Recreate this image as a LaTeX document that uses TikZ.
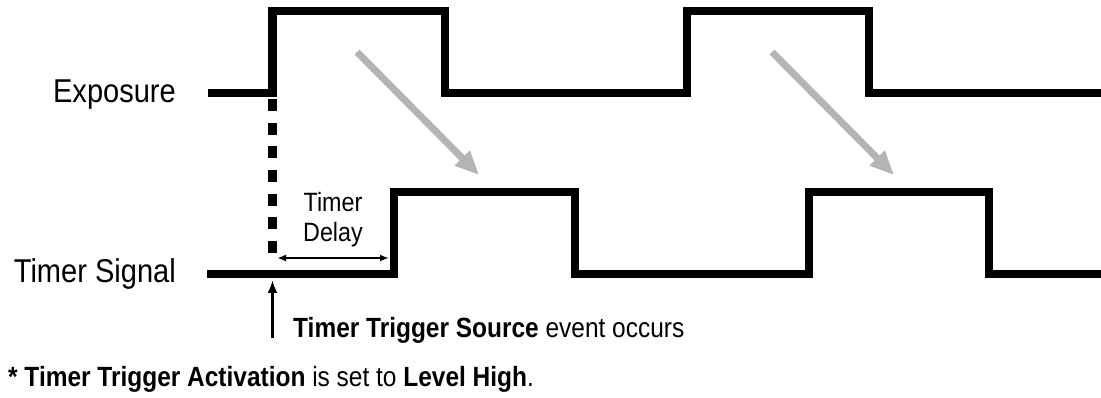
\documentclass[tikz,border=0pt]{standalone}
\usepackage{fontspec}
\setmainfont{Liberation Sans}[FakeStretch=0.88]
\usetikzlibrary{arrows.meta}
\definecolor{arrowgray}{HTML}{B4B4B4}
\tikzset{
  wave/.style={line width=8.5pt, line join=miter, black},
  hint/.style={line width=7pt, arrowgray, -{Triangle[length=24pt,width=20pt]}},
  lbl/.style={inner sep=0pt, font=\fontsize{33}{36}\selectfont},
  small/.style={inner sep=0pt, font=\fontsize{26.5}{30}\selectfont},
  note/.style={inner sep=0pt, anchor=base west, font=\fontsize{27.8}{32}\selectfont},
}
\begin{document}
\begin{tikzpicture}[x=1pt,y=-1pt]
\useasboundingbox (0,0) rectangle (1101,398);
% labels
\node[lbl, anchor=base east] (exp) at (176,103) {Exposure};
\node[lbl, anchor=base east] (tsig) at (176,283) {Timer Signal};
% waveforms
\coordinate (e0) at (208,93);
\coordinate (t0) at (207,274);
\draw[wave] (e0) -- (272.5,93) -- (272.5,11) -- (445,11) -- (445,93) -- (687,93) -- (687,11) -- (869,11) -- (869,93) -- (1101,93);
\draw[wave] (t0) -- (394,274) -- (394,192) -- (575,192) -- (575,274) -- (809,274) -- (809,192) -- (989,192) -- (989,274) -- (1101,274);
% gray arrows
\coordinate (g1s) at (357,52);
\coordinate (g1e) at (479,175);
\coordinate (g2s) at (772,52);
\coordinate (g2e) at (894,175);
\draw[hint] (g1s) -- (g1e);
\draw[hint] (g2s) -- (g2e);
% dashed line
\coordinate (d0) at (272.5,99);
\coordinate (d1) at (272.5,256);
\draw[line width=9pt, dash pattern=on 12pt off 11.7pt] (d0) -- (d1);
% timer delay
\coordinate (td0) at (277,258);
\coordinate (td1) at (389,258);
\draw[line width=2.2pt, {Latex[length=9pt,width=7pt]}-{Latex[length=9pt,width=7pt]}] (td0) -- (td1);
\node[small, anchor=base] (tmr) at (333,212) {Timer};
\node[small, anchor=base] (dly) at (333,242) {Delay};
% trigger arrow
\coordinate (ua0) at (272.5,338);
\coordinate (ua1) at (272.5,280);
\draw[line width=3.5pt, -{Latex[length=13pt,width=10pt]}] (ua0) -- (ua1);
\node[note] (evt) at (293,337) {\textbf{Timer Trigger Source} event occurs};
\node[note] (fn) at (8,386) {\textbf{* Timer Trigger Activation} is set to \textbf{Level High}.};
\end{tikzpicture}
\end{document}
